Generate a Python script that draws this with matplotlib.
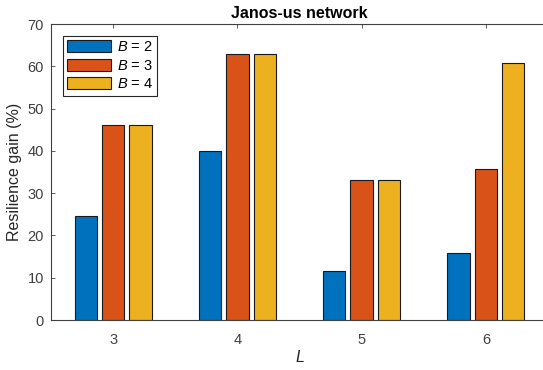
import matplotlib
matplotlib.use('Agg')
import matplotlib.pyplot as plt
import numpy as np

plt.rcParams['font.family'] = ['Liberation Sans', 'DejaVu Sans']
plt.rcParams['mathtext.fontset'] = 'custom'
plt.rcParams['mathtext.rm'] = 'Liberation Sans'
plt.rcParams['mathtext.it'] = 'Liberation Sans:italic'

# resilience gain per path length L, one series per B
L_values = [3, 4, 5, 6]
gain_b2 = [24.7, 40.0, 11.6, 15.9]
gain_b3 = [46.2, 63.0, 33.1, 35.7]
gain_b4 = [46.2, 63.0, 33.1, 60.7]
series_labels = ['$B$ = 2', '$B$ = 3', '$B$ = 4']
colors = ['#0072BD', '#D95319', '#EDB120']

fig = plt.figure(figsize=(5.43, 3.70), dpi=100)
ax = fig.add_axes([51 / 543, 50 / 370, 497 / 543, 296 / 370])

x = np.array(L_values, dtype=float)
offsets = [-0.22, 0.0, 0.22]
for vals, off, c, lab in zip([gain_b2, gain_b3, gain_b4], offsets, colors, series_labels):
    ax.bar(x + off, vals, width=0.18, color=c, edgecolor='#1a1a1a',
           linewidth=0.8, label=lab, zorder=2)

ax.set_xlim(2.5, 6.5)
ax.set_ylim(0, 70)
ax.set_xticks(L_values)
ax.set_yticks(range(0, 71, 10))
ax.tick_params(direction='in', length=3, width=0.6, colors='#404040',
               labelsize=10.5, top=True, right=True, pad=5)
ax.tick_params(axis='x', pad=9)
for s in ax.spines.values():
    s.set_color('#404040')
    s.set_linewidth(0.8)

ax.set_title('Janos-us network', fontsize=11.5, fontweight='bold', pad=4)
ax.set_xlabel('$L$', fontsize=11.5, color='#262626', labelpad=2)
ax.set_ylabel('Resilience gain (%)', fontsize=11.5, color='#262626', labelpad=4)

leg = ax.legend(loc='upper left', bbox_to_anchor=(0.024, 0.96), fontsize=10.5,
                handlelength=3.0, handleheight=0.9, labelspacing=0.3,
                handletextpad=0.4, borderpad=0.3, borderaxespad=0,
                fancybox=False, framealpha=1)
leg.get_frame().set_edgecolor('#262626')
leg.get_frame().set_linewidth(0.8)

fig.savefig('out.png', dpi=100)
